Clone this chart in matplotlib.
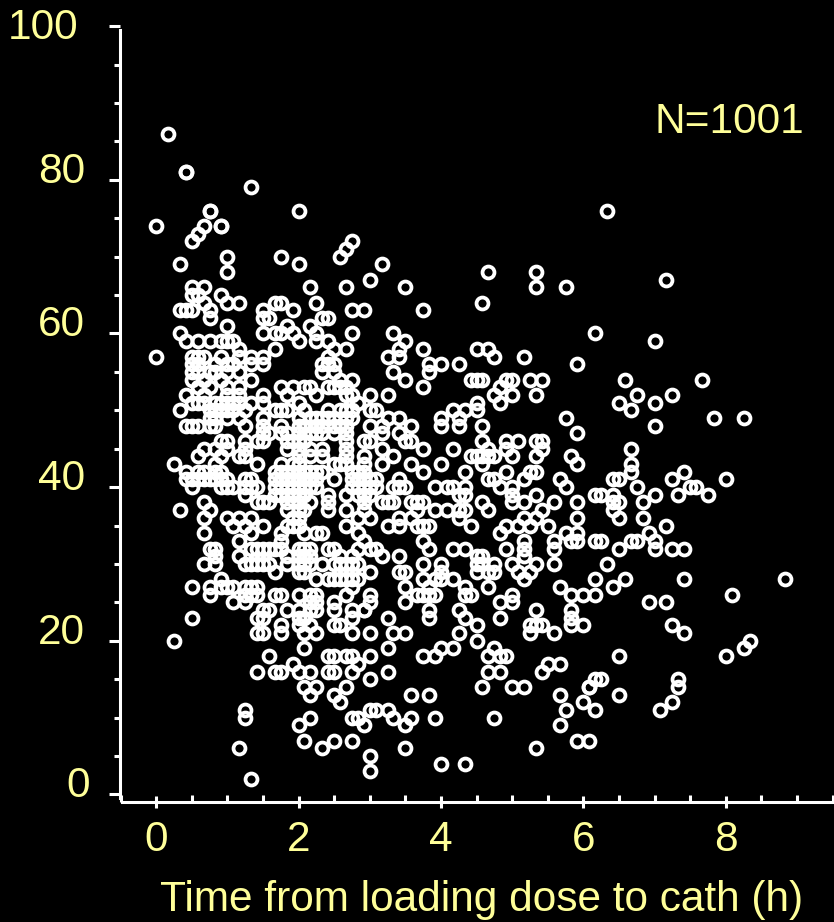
import matplotlib
matplotlib.use("Agg")
import matplotlib.pyplot as plt
from matplotlib.ticker import MultipleLocator

plt.rcParams["font.family"] = ["Liberation Sans", "DejaVu Sans"]

TEXT_COLOR = "#FFFF99"

score_levels = [86, 81, 79, 76, 74, 73, 72, 71, 70, 69, 68, 67, 66, 65, 64, 63, 62, 61, 60,
                59, 58, 57, 56, 55, 54, 53, 52, 51, 50, 49, 48, 47, 46, 45, 44, 43, 42, 41,
                40, 39, 38, 37, 36, 35, 34, 33, 32, 31, 30, 29, 28, 27, 26, 25, 24, 23, 22,
                21, 20, 19, 18, 17, 16, 15, 14, 13, 12, 11, 10, 9, 7, 6, 5, 4, 3, 2]
minutes_at_level = [
    [10],
    [25, 25],
    [80],
    [45, 45, 120, 380],
    [0, 40, 55, 55],
    [35],
    [30, 165],
    [160],
    [60, 105, 155],
    [20, 120, 190],
    [60, 280, 320],
    [180, 430],
    [30, 40, 130, 160, 210, 320, 345],
    [30, 35, 55],
    [40, 60, 70, 100, 105, 135, 275],
    [20, 25, 30, 45, 90, 115, 165, 175, 225],
    [45, 90, 95, 140, 145],
    [60, 110, 130],
    [20, 90, 100, 105, 115, 135, 165, 200, 370],
    [25, 35, 45, 55, 60, 65, 120, 135, 145, 210, 420],
    [70, 100, 150, 160, 205, 225, 270, 280],
    [0, 30, 35, 40, 55, 70, 80, 90, 145, 195, 205, 285, 310],
    [30, 35, 50, 60, 65, 80, 90, 140, 145, 150, 230, 240, 255, 355],
    [30, 35, 45, 50, 60, 70, 140, 150, 200, 230],
    [30, 40, 55, 80, 155, 165, 210, 265, 270, 275, 295, 300, 315, 325, 395, 460],
    [35, 45, 60, 70, 105, 115, 125, 130, 145, 150, 155, 160, 225, 290],
    [25, 40, 60, 70, 90, 110, 135, 160, 165, 180, 195, 285, 300, 320, 405, 435],
    [30, 35, 40, 50, 55, 60, 65, 70, 80, 90, 120, 170, 270, 290, 390, 420],
    [20, 45, 50, 55, 60, 65, 75, 100, 105, 110, 125, 145, 155, 160, 165, 180, 185, 250, 260, 270, 400],
    [45, 50, 60, 70, 90, 120, 130, 135, 140, 145, 150, 160, 165, 195, 205, 240, 255, 345, 470, 495],
    [25, 30, 35, 45, 50, 75, 90, 105, 120, 125, 135, 140, 150, 155, 160, 180, 190, 215, 240, 255, 275, 420],
    [90, 95, 105, 110, 120, 130, 135, 140, 150, 160, 190, 205, 355],
    [55, 60, 75, 85, 90, 110, 115, 120, 125, 160, 175, 180, 210, 215, 275, 295, 305, 320, 325],
    [40, 50, 60, 75, 110, 120, 130, 140, 160, 190, 225, 250, 280, 295, 325, 400],
    [35, 55, 70, 75, 120, 130, 140, 160, 175, 200, 265, 270, 275, 280, 285, 300, 320, 350],
    [15, 50, 85, 105, 115, 120, 150, 155, 160, 175, 190, 215, 240, 275, 355, 400],
    [25, 35, 40, 50, 55, 100, 105, 110, 115, 120, 125, 130, 135, 140, 165, 170, 175, 225, 260, 295, 315, 320, 400, 445],
    [25, 30, 35, 40, 45, 50, 55, 60, 75, 80, 100, 105, 110, 115, 120, 125, 130, 135, 150, 165, 170, 175, 180, 185,
     205, 280, 285, 310, 340, 385, 390, 435, 480],
    [30, 55, 60, 65, 75, 80, 85, 100, 105, 110, 115, 120, 125, 130, 135, 165, 170, 175, 180, 185, 200, 205, 210,
     235, 245, 250, 260, 290, 300, 345, 405, 450, 455],
    [75, 100, 105, 110, 115, 120, 125, 145, 160, 170, 175, 180, 255, 260, 300, 320, 370, 375, 385, 420, 440, 465],
    [40, 85, 90, 95, 110, 120, 130, 145, 175, 190, 195, 200, 215, 220, 225, 275, 300, 310, 335, 355, 385, 390, 410],
    [20, 45, 110, 120, 125, 145, 160, 175, 220, 235, 245, 255, 260, 280, 325, 385],
    [40, 60, 70, 80, 115, 120, 170, 180, 205, 215, 255, 310, 320, 355, 390, 410],
    [65, 75, 90, 110, 115, 120, 160, 195, 205, 220, 225, 230, 265, 295, 305, 315, 330, 430],
    [40, 80, 105, 125, 135, 140, 170, 290, 345, 355, 415],
    [70, 105, 175, 225, 310, 335, 350, 355, 370, 375, 400, 405, 420],
    [45, 50, 80, 85, 90, 95, 100, 105, 120, 125, 130, 145, 150, 170, 180, 185, 230, 250, 260, 295, 310, 335, 390,
     420, 435, 445],
    [50, 70, 110, 120, 125, 130, 155, 165, 190, 205, 270, 275, 310],
    [40, 50, 75, 80, 85, 90, 95, 110, 120, 125, 130, 140, 150, 155, 160, 165, 170, 225, 240, 270, 275, 285, 300,
     320, 335, 380],
    [100, 120, 125, 180, 205, 210, 240, 270, 280, 285, 305, 315],
    [55, 135, 145, 150, 155, 160, 165, 170, 225, 235, 240, 250, 310, 370, 395, 445, 530],
    [30, 45, 55, 60, 65, 75, 80, 85, 165, 210, 230, 260, 280, 340, 385],
    [45, 75, 80, 85, 100, 105, 120, 130, 135, 160, 180, 220, 225, 230, 235, 260, 265, 300, 350, 360, 370, 485],
    [65, 75, 130, 135, 150, 180, 210, 290, 300, 415, 430],
    [90, 95, 110, 120, 130, 135, 150, 165, 175, 175, 230, 255, 320, 350],
    [30, 85, 90, 120, 125, 165, 195, 230, 260, 290, 350],
    [105, 120, 130, 150, 155, 270, 315, 320, 325, 350, 360, 435],
    [85, 90, 105, 125, 135, 165, 180, 200, 210, 255, 315, 335, 445],
    [15, 270, 500],
    [125, 195, 240, 250, 285, 495],
    [95, 145, 150, 160, 165, 180, 225, 235, 280, 290, 295, 390, 480],
    [115, 170, 330, 340],
    [85, 100, 105, 120, 130, 145, 150, 165, 195, 280, 290, 325],
    [180, 370, 375, 440],
    [125, 135, 160, 275, 300, 310, 365, 365, 440],
    [130, 150, 215, 230, 340, 390],
    [155, 360, 435],
    [75, 180, 185, 195, 345, 370, 425],
    [75, 130, 165, 170, 200, 215, 235, 285],
    [120, 175, 210, 340],
    [125, 150, 165, 355, 365],
    [70, 140, 210, 320],
    [180],
    [240, 260],
    [180],
    [80],
]

x_ticks = [0, 2, 4, 6, 8]
y_ticks = [0, 20, 40, 60, 80, 100]
x_label = "Time from loading dose to cath (h)"
n_label = "N=1001"

hours = []
scores = []
for level, minutes in zip(score_levels, minutes_at_level):
    for m in minutes:
        hours.append(m / 60)
        scores.append(level)

W, H = 834, 922
fig = plt.figure(figsize=(W / 100, H / 100), dpi=100, facecolor="black")
ax = fig.add_axes([120.5 / W, (H - 802) / H, (W - 120.5) / W, 802 / H], facecolor="none")

ax.plot(hours, scores, linestyle="none", marker="o", markersize=8.6,
        markerfacecolor="none", markeredgecolor="white", markeredgewidth=2.7, clip_on=False)

ax.set_xlim(-0.5, 9.52)
ax.set_ylim(-0.98, 103.4)

for side in ["top", "right"]:
    ax.spines[side].set_visible(False)
ax.spines["left"].set_color("white")
ax.spines["left"].set_linewidth(2.2)
ax.spines["left"].set_bounds(-0.4, 99.5)
ax.spines["bottom"].set_color("white")
ax.spines["bottom"].set_linewidth(2.2)
ax.spines["bottom"].set_bounds(-0.48, 9.52)

ax.set_xticks(x_ticks)
ax.xaxis.set_minor_locator(MultipleLocator(0.5))
ax.yaxis.set_minor_locator(MultipleLocator(5))
ax.set_yticks(y_ticks)
ax.set_yticklabels([])
ax.tick_params(axis="x", which="major", direction="inout", length=8, width=2.2, color="white",
               labelsize=30.5, labelcolor=TEXT_COLOR, pad=9)
ax.tick_params(axis="x", which="minor", direction="in", length=5, width=2.2, color="white")
ax.tick_params(axis="y", which="major", direction="out", length=8, width=2.2, color="white")
ax.tick_params(axis="y", which="minor", direction="out", length=4.5, width=2.2, color="white")

# y labels sit above their ticks and are not lined up in the original
label_right = {100: 78, 80: 85, 60: 85, 40: 85, 20: 85, 0: 90}
label_up = {100: -2, 80: 8, 60: 8, 40: 8, 20: 8, 0: 8}
for val in y_ticks:
    ax.annotate(str(val), xy=(0, val), xycoords=("axes fraction", "data"),
                xytext=(label_right[val] - 120.5, label_up[val]), textcoords="offset pixels",
                ha="right", va="center", fontsize=30.5, color=TEXT_COLOR)

fig.text(654 / W, 1 - 122 / H, n_label, ha="left", va="center", fontsize=30.5, color=TEXT_COLOR)
fig.text(160 / W, 1 - 900 / H, x_label, ha="left", va="center", fontsize=30.5, color=TEXT_COLOR)

fig.savefig("out.png", dpi=100, facecolor="black")
